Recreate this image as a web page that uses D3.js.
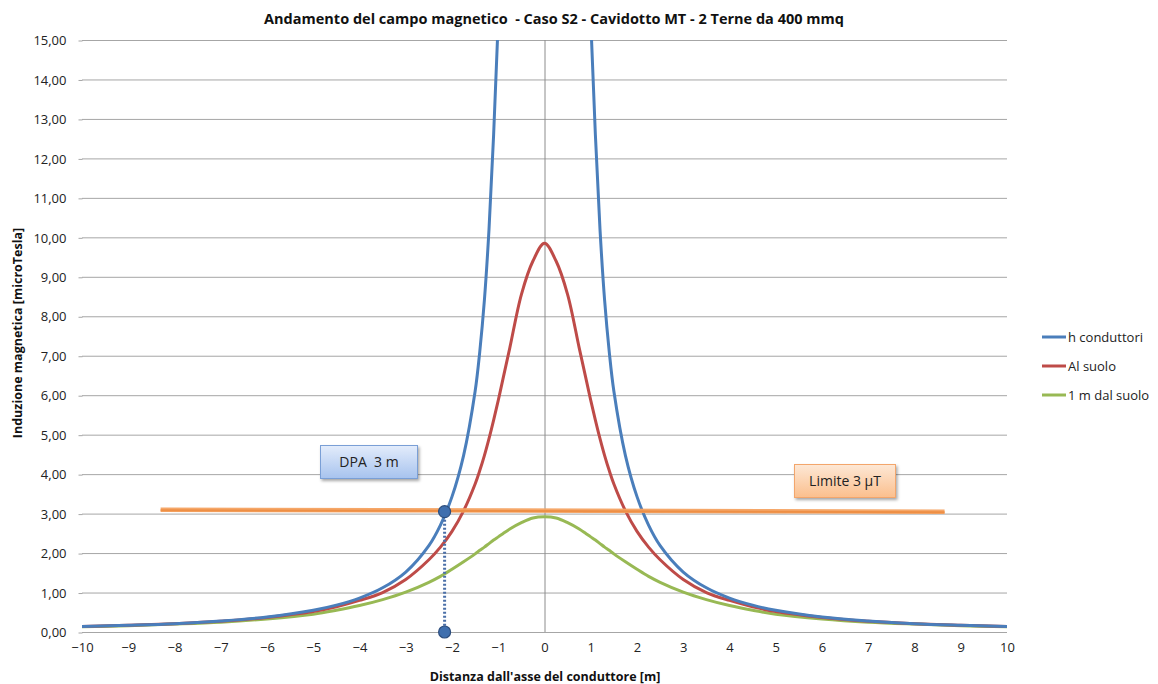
<!DOCTYPE html>
<html>
<head>
<meta charset="utf-8">
<script src="https://cdn.jsdelivr.net/npm/d3@7"></script>
<style>
  body { margin: 0; background: #fff; }
  svg { display: block; font-family: "Open Sans", "Noto Sans", sans-serif; }
  text { white-space: pre; }
</style>
</head>
<body>
<svg id="chart" width="1158" height="684"></svg>
<script>
// ---- data ----
const xValues = [-10, -9, -8, -7, -6, -5, -4.5, -4, -3.5, -3, -2.5, -2.25, -2, -1.75, -1.5, -1.4, -1.3, -1.2, -1.1, -1.0, -0.9, -0.75, -0.5, -0.25, 0,
                 0.25, 0.5, 0.75, 0.9, 1.0, 1.1, 1.2, 1.3, 1.4, 1.5, 1.75, 2, 2.25, 2.5, 3, 3.5, 4, 4.5, 5, 6, 7, 8, 9, 10];
const hConduttori = [0.14, 0.17, 0.21, 0.28, 0.38, 0.55, 0.68, 0.86, 1.12, 1.52, 2.19, 2.71, 3.43, 4.47, 6.1, 7.1, 8.4, 10.2, 12.6, 15.5, 19.5, null, null, null, null,
                     null, null, null, 19.5, 15.5, 12.6, 10.2, 8.4, 7.1, 6.1, 4.47, 3.43, 2.71, 2.19, 1.52, 1.12, 0.86, 0.68, 0.55, 0.38, 0.28, 0.21, 0.17, 0.14];
const alSuolo = [0.14, 0.17, 0.21, 0.27, 0.37, 0.52, 0.64, 0.80, 1.0, 1.33, 1.83, 2.15, 2.55, 3.07, 3.75, 4.09, 4.47, 4.9, 5.37, 5.87, 6.4, 7.2, 8.55, 9.4, 9.85,
                 9.4, 8.55, 7.2, 6.4, 5.87, 5.37, 4.9, 4.47, 4.09, 3.75, 3.07, 2.55, 2.15, 1.83, 1.33, 1.0, 0.80, 0.64, 0.52, 0.37, 0.27, 0.21, 0.17, 0.14];
const unMetro = [0.13, 0.16, 0.20, 0.25, 0.33, 0.45, 0.55, 0.67, 0.82, 1.01, 1.26, 1.41, 1.59, 1.78, 1.98, 2.07, 2.15, 2.24, 2.33, 2.41, 2.49, 2.61, 2.77, 2.89, 2.92,
                 2.89, 2.77, 2.61, 2.49, 2.41, 2.33, 2.24, 2.15, 2.07, 1.98, 1.78, 1.59, 1.41, 1.26, 1.01, 0.82, 0.67, 0.55, 0.45, 0.33, 0.25, 0.20, 0.16, 0.13];
const seriesNames = ["h conduttori", "Al suolo", "1 m dal suolo"];
const seriesColors = ["#4a7ebb", "#be4b48", "#98b954"];
const xTicks = d3.range(-10, 11, 1);
const yTicks = d3.range(0, 16, 1);
const limitX = [-8.3, 8.65];
const limitY = [3.1, 3.05];
const dpaX = [-2.16, -2.16];
const dpaY = [3.05, 0];

// ---- layout ----
const svg = d3.select("#chart");
const x = d3.scaleLinear().domain([-10, 10]).range([82, 1007]);
const y = d3.scaleLinear().domain([0, 15]).range([632, 40]);

const defs = svg.append("defs");
defs.append("clipPath").attr("id", "plotclip").append("rect")
  .attr("x", 82).attr("y", 40).attr("width", 925).attr("height", 592);
const gB = defs.append("linearGradient").attr("id", "gBlue").attr("x1", 0).attr("x2", 0).attr("y1", 0).attr("y2", 1);
gB.append("stop").attr("offset", "0%").attr("stop-color", "#e3ecfb");
gB.append("stop").attr("offset", "100%").attr("stop-color", "#a7c3ee");
const gO = defs.append("linearGradient").attr("id", "gOrange").attr("x1", 0).attr("x2", 0).attr("y1", 0).attr("y2", 1);
gO.append("stop").attr("offset", "0%").attr("stop-color", "#fde8d6");
gO.append("stop").attr("offset", "100%").attr("stop-color", "#fbbf8d");
const sh = defs.append("filter").attr("id", "shadow").attr("x", "-20%").attr("y", "-20%").attr("width", "140%").attr("height", "160%");
sh.append("feDropShadow").attr("dx", 1.5).attr("dy", 2).attr("stdDeviation", 1.5).attr("flood-color", "#000").attr("flood-opacity", 0.35);

// gridlines
svg.append("g").selectAll("line").data(yTicks).join("line")
  .attr("x1", 82).attr("x2", 1007)
  .attr("y1", d => y(d) + 0.5).attr("y2", d => y(d) + 0.5)
  .attr("stroke", "#a6a6a6").attr("stroke-width", 1);

// y axis (left labels + tick marks)
const yAxis = d3.axisLeft(y).tickValues(yTicks).tickSize(4).tickPadding(12)
  .tickFormat(d => d3.format(".2f")(d).replace(".", ","));
const gy = svg.append("g").attr("transform", "translate(82.5,0.5)").call(yAxis);
gy.select(".domain").remove();
gy.selectAll(".tick line").attr("stroke", "#a6a6a6");
gy.selectAll(".tick text").attr("font-size", 13).attr("fill", "#222").attr("font-family", "Open Sans, sans-serif");

// vertical axis line at x=0
svg.append("line").attr("x1", x(0) + 0.5).attr("x2", x(0) + 0.5).attr("y1", 40).attr("y2", 632)
  .attr("stroke", "#8c8c8c").attr("stroke-width", 1);

// x axis labels
const xAxis = d3.axisBottom(x).tickValues(xTicks).tickSize(0).tickPadding(11).tickFormat(d3.format("d"));
const gx = svg.append("g").attr("transform", "translate(0,632)").call(xAxis);
gx.select(".domain").remove();
gx.selectAll(".tick text").attr("font-size", 13).attr("fill", "#222").attr("font-family", "Liberation Sans Narrow, Open Sans, sans-serif");

// series
const allSeries = [hConduttori, alSuolo, unMetro];
const line = d3.line()
  .defined(d => d[1] != null)
  .x(d => x(d[0])).y(d => y(d[1]))
  .curve(d3.curveCatmullRom.alpha(0.5));
const plot = svg.append("g").attr("clip-path", "url(#plotclip)");
[2, 1, 0].forEach(i => {
  plot.append("path")
    .datum(xValues.map((xv, j) => [xv, allSeries[i][j]]))
    .attr("d", line)
    .attr("fill", "none")
    .attr("stroke", seriesColors[i])
    .attr("stroke-width", 3)
    .attr("stroke-linejoin", "round");
});

// limit line
svg.append("line")
  .attr("x1", x(limitX[0])).attr("x2", x(limitX[1]))
  .attr("y1", y(limitY[0])).attr("y2", y(limitY[1]))
  .attr("stroke", "#f4a261").attr("stroke-width", 4.5).attr("stroke-opacity", 0.95);
svg.append("line")
  .attr("x1", x(limitX[0])).attr("x2", x(limitX[1]))
  .attr("y1", y(limitY[0]) + 0.5).attr("y2", y(limitY[1]) + 0.5)
  .attr("stroke", "#ee8f45").attr("stroke-width", 2);

// DPA dotted line and points
svg.append("line")
  .attr("x1", x(dpaX[0])).attr("x2", x(dpaX[1]))
  .attr("y1", y(dpaY[0])).attr("y2", y(dpaY[1]))
  .attr("stroke", "#4a6fa8").attr("stroke-width", 3).attr("stroke-dasharray", "2,2");
svg.append("g").selectAll("circle").data(dpaX.map((d, i) => [d, dpaY[i]])).join("circle")
  .attr("cx", d => x(d[0])).attr("cy", d => y(d[1])).attr("r", 6)
  .attr("fill", "#3f6fae").attr("stroke", "#2c4d7d").attr("stroke-width", 1.2);

// annotation boxes
function box(xp, yp, w, h, fill, stroke, label) {
  const g = svg.append("g");
  g.append("rect").attr("x", xp).attr("y", yp).attr("width", w).attr("height", h)
    .attr("fill", fill).attr("stroke", stroke).attr("stroke-width", 1).attr("filter", "url(#shadow)");
  g.append("text").attr("x", xp + w / 2).attr("y", yp + h / 2 + 5).attr("text-anchor", "middle")
    .attr("font-size", 14).attr("fill", "#222").text(label);
}
box(320.5, 445.5, 97, 33, "url(#gBlue)", "#7a9fd6", "DPA  3 m");
box(794.5, 464.5, 101, 33, "url(#gOrange)", "#f3a66c", "Limite 3 \u00b5T");

// title
svg.append("text").attr("x", 554).attr("y", 24).attr("text-anchor", "middle")
  .attr("font-size", 14.5).attr("font-weight", "bold").attr("fill", "#111")
  .text("Andamento del campo magnetico  - Caso S2 - Cavidotto MT - 2 Terne da 400 mmq");

// axis titles
svg.append("text").attr("transform", "translate(22,333) rotate(-90)").attr("text-anchor", "middle")
  .attr("font-size", 12.5).attr("font-weight", "bold").attr("fill", "#111")
  .text("Induzione magnetica [microTesla]");
svg.append("text").attr("x", 545).attr("y", 681).attr("text-anchor", "middle")
  .attr("font-size", 12.5).attr("font-weight", "bold").attr("fill", "#111")
  .text("Distanza dall'asse del conduttore [m]");

// legend
const leg = svg.append("g").selectAll("g").data(seriesNames).join("g")
  .attr("transform", (d, i) => `translate(1042,${337 + i * 29})`);
leg.append("line").attr("x1", 0).attr("x2", 24).attr("y1", 0).attr("y2", 0)
  .attr("stroke", (d, i) => seriesColors[i]).attr("stroke-width", 3);
leg.append("text").attr("x", 26).attr("y", 5).attr("font-size", 13).attr("fill", "#222").text(d => d);
</script>
</body>
</html>
